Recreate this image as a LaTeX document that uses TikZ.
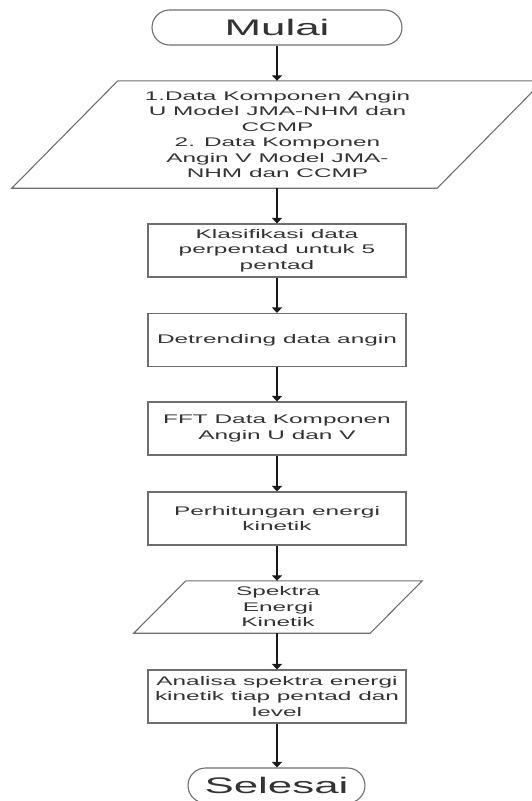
\documentclass[tikz,border=0pt]{standalone}
\usepackage{fontspec}
\setmainfont{Liberation Sans}[FakeStretch=1.95]
\usetikzlibrary{arrows.meta}
\definecolor{boxgray}{HTML}{6E6E6E}
\definecolor{textgray}{HTML}{333333}
\definecolor{arrowblack}{HTML}{1A1A1A}
\begin{document}
\begin{tikzpicture}[x=1pt,y=-1pt,
  bodyfont/.style={font=\fontsize{12.5}{15.5}\selectfont, text=textgray},
  box/.style={draw=boxgray, line width=1.1pt, minimum width=258pt, minimum height=53pt, inner sep=0pt, align=center, bodyfont},
  term/.style={draw=boxgray, line width=1.1pt, rounded corners=17.5pt, minimum height=35pt, inner sep=0pt, font=\fontsize{22.5}{26}\selectfont, text=textgray},
  io/.style={draw=none, inner sep=0pt, align=center, bodyfont},
  pline/.style={draw=boxgray, line width=1.1pt, line join=miter},
  arr/.style={-{Triangle[length=5.5pt,width=10pt]}, line width=1.4pt, draw=arrowblack}]
\useasboundingbox (0,0) rectangle (531,801);

\node[term, minimum width=250pt] (mulai) at (277,27.5) {Mulai};

\node[io, minimum width=425pt, minimum height=107pt] (input) at (277.5,134.5)
  {1.Data Komponen Angin\\U Model JMA-NHM dan\\CCMP\\2. Data Komponen\\Angin V Model JMA-\\NHM dan CCMP};
\draw[pline] ([xshift=53pt]input.north west) -- ([xshift=53pt]input.north east)
  -- ([xshift=-53pt]input.south east) -- ([xshift=-53pt]input.south west) -- cycle;

\node[box] (klas) at (277,250.5) {Klasifikasi data\\perpentad untuk 5\\pentad};
\node[box] (detr) at (277,340) {Detrending data angin};
\node[box] (fft) at (277,428.5) {FFT Data Komponen\\Angin U dan V};
\node[box] (hit) at (277,518.5) {Perhitungan energi\\kinetik};

\node[io, minimum width=236pt, minimum height=52pt] (spek) at (278,607) {Spektra\\Energi\\Kinetik};
\draw[pline] ([xshift=26pt]spek.north west) -- ([xshift=26pt]spek.north east)
  -- ([xshift=-26pt]spek.south east) -- ([xshift=-26pt]spek.south west) -- cycle;

\node[box] (anal) at (277,696.5) {Analisa spektra energi\\kinetik tiap pentad dan\\level};
\node[term, minimum width=177pt] (sel) at (276.5,785.5) {Selesai};

\draw[arr] (mulai.south) -- (mulai.south |- input.north);
\draw[arr] (input.south -| klas.north) -- (klas.north);
\draw[arr] (klas.south) -- (detr.north);
\draw[arr] (detr.south) -- (fft.north);
\draw[arr] (fft.south) -- (hit.north);
\draw[arr] (hit.south) -- (hit.south |- spek.north);
\draw[arr] (spek.south -| anal.north) -- (anal.north);
\draw[arr] (anal.south) -- (anal.south |- sel.north);
\end{tikzpicture}
\end{document}
